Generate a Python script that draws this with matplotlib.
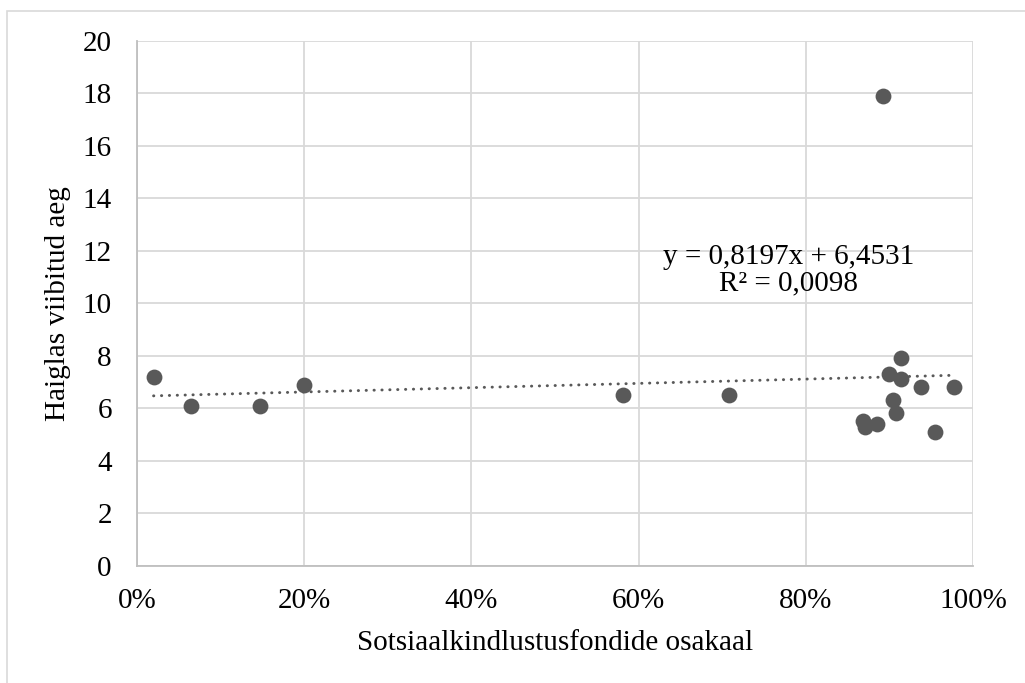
"""
Scatter: hospital stay length vs share of social insurance funds, with linear trendline.
"""

import matplotlib

matplotlib.use("Agg")
import matplotlib.pyplot as plt
from matplotlib.patches import Rectangle
from matplotlib.ticker import FuncFormatter
import numpy as np

# share of social insurance funds (fraction) and time spent in hospital
share = [0.020, 0.065, 0.147, 0.200, 0.581, 0.708,
         0.892, 0.913, 0.899, 0.914, 0.938, 0.977,
         0.904, 0.908, 0.868, 0.870, 0.885, 0.954]
stay = [7.2, 6.1, 6.1, 6.9, 6.5, 6.5,
        17.9, 7.9, 7.3, 7.1, 6.8, 6.8,
        6.3, 5.8, 5.5, 5.3, 5.4, 5.1]

# trendline as reported in the chart
slope = 0.8197
intercept = 6.4531
r2 = 0.0098

x_ticks = [0.0, 0.2, 0.4, 0.6, 0.8, 1.0]
y_ticks = list(range(0, 21, 2))


def main() -> None:
    plt.rcParams["font.family"] = ["Liberation Serif", "DejaVu Serif"]

    fig = plt.figure(figsize=(10.25, 6.83), dpi=100)
    ax = fig.add_axes([0.1335, 0.172, 0.8161, 0.768])

    # outer chart-area border (only left/top visible in the crop)
    fig.add_artist(Rectangle((7 / 1025, -0.1), 1.2, (683 - 11) / 683 + 0.1,
                             transform=fig.transFigure, fill=False,
                             edgecolor="#d9d9d9", linewidth=1.2))

    ax.scatter(share, stay, s=130, color="#595959", zorder=3, linewidths=0)

    tx = np.array([min(share), max(share)])
    ax.plot(tx, slope * tx + intercept, linestyle=(0, (0.1, 2.6)), color="#595959",
            linewidth=2.1, dash_capstyle="round", zorder=2)

    eq = f"y = {slope:.4f}x + {intercept:.4f}\nR² = {r2:.4f}".replace(".", ",")
    ax.text(0.779, 11.26, eq, ha="center", va="center", fontsize=21,
            linespacing=1.0, color="black")

    ax.set_xlim(0, 1)
    ax.set_ylim(0, 20)
    ax.set_xticks(x_ticks)
    ax.set_yticks(y_ticks)
    ax.xaxis.set_major_formatter(FuncFormatter(lambda v, _: f"{v * 100:.0f}%"))
    ax.tick_params(length=0, labelsize=21, colors="black")
    ax.tick_params(axis="x", pad=16)
    ax.tick_params(axis="y", pad=18)

    ax.grid(True, color="#d9d9d9", linewidth=1.3)
    ax.set_axisbelow(True)
    for side in ["top", "right"]:
        ax.spines[side].set_visible(False)
    for side in ["left", "bottom"]:
        ax.spines[side].set_color("#bfbfbf")
        ax.spines[side].set_linewidth(1.3)

    ax.set_xlabel("Sotsiaalkindlustusfondide osakaal", fontsize=21, labelpad=12)
    ax.set_ylabel("Haiglas viibitud aeg", fontsize=21, labelpad=8)

    fig.savefig("out.png", dpi=100)


if __name__ == "__main__":
    main()
